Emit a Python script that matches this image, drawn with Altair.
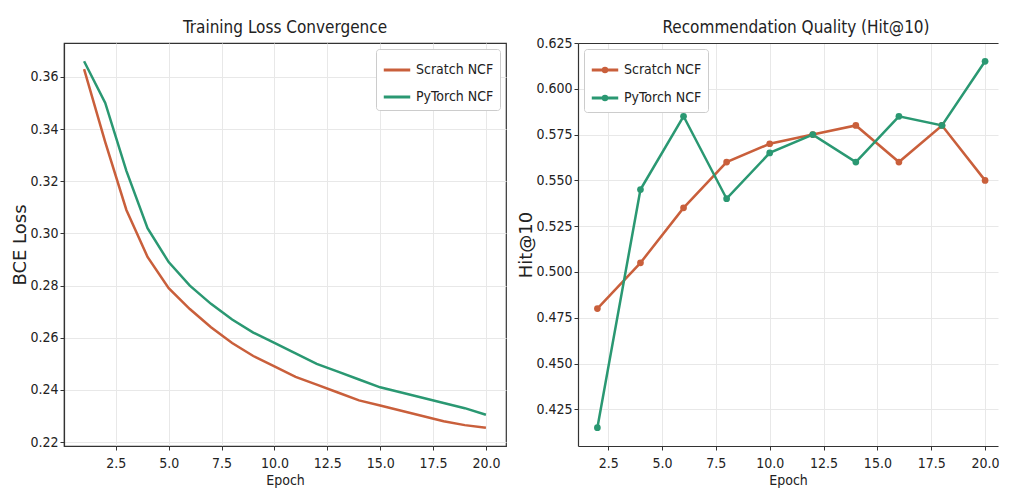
import altair as alt
import pandas as pd

# ---------------- data ----------------
series = ["Scratch NCF", "PyTorch NCF"]
colors = ["#c95f3b", "#2a9872"]

epochs = list(range(1, 21))
scratch_loss = [0.363, 0.335, 0.309, 0.291, 0.279, 0.271, 0.264, 0.258, 0.253, 0.249,
                0.245, 0.242, 0.239, 0.236, 0.234, 0.232, 0.230, 0.228, 0.2265, 0.2255]
pytorch_loss = [0.366, 0.350, 0.324, 0.302, 0.289, 0.280, 0.273, 0.267, 0.262, 0.258,
                0.254, 0.250, 0.247, 0.244, 0.241, 0.239, 0.237, 0.235, 0.233, 0.2305]

hit_epochs = [2, 4, 6, 8, 10, 12, 14, 16, 18, 20]
scratch_hit = [0.480, 0.505, 0.535, 0.560, 0.570, 0.575, 0.580, 0.560, 0.580, 0.550]
pytorch_hit = [0.415, 0.545, 0.585, 0.540, 0.565, 0.575, 0.560, 0.585, 0.580, 0.615]

x_ticks = [2.5, 5.0, 7.5, 10.0, 12.5, 15.0, 17.5, 20.0]
loss_ticks = [0.22, 0.24, 0.26, 0.28, 0.30, 0.32, 0.34, 0.36]
hit_ticks = [0.425, 0.450, 0.475, 0.500, 0.525, 0.550, 0.575, 0.600, 0.625]

loss_df = pd.DataFrame({
    "Epoch": epochs + epochs,
    "Loss": scratch_loss + pytorch_loss,
    "Model": [series[0]] * len(epochs) + [series[1]] * len(epochs),
})
hit_df = pd.DataFrame({
    "Epoch": hit_epochs + hit_epochs,
    "Hit": scratch_hit + pytorch_hit,
    "Model": [series[0]] * len(hit_epochs) + [series[1]] * len(hit_epochs),
})

FONT = "DejaVu Sans Condensed"
DARK = "#333333"

color_scale = alt.Scale(domain=series, range=colors)

legend_common = dict(
    title=None, labelFontSize=14, labelFont=FONT, labelColor="#222222",
    fillColor="white", strokeColor="#cccccc", padding=6, cornerRadius=3,
    rowPadding=5, symbolStrokeWidth=3, symbolSize=700, offset=6,
)

# ---------------- left panel ----------------
loss_chart = alt.Chart(loss_df).mark_line(strokeWidth=2.5).encode(
    x=alt.X("Epoch:Q",
            scale=alt.Scale(domain=[0.05, 20.95], nice=False, zero=False),
            axis=alt.Axis(values=x_ticks, format=".1f", title="Epoch")),
    y=alt.Y("Loss:Q",
            scale=alt.Scale(domain=[0.2185, 0.373], nice=False, zero=False),
            axis=alt.Axis(values=loss_ticks, format=".2f", title="BCE Loss")),
    color=alt.Color("Model:N", scale=color_scale, sort=series,
                    legend=alt.Legend(orient="top-right", symbolType="stroke", **legend_common)),
).properties(
    width=442, height=403,
    title=alt.TitleParams("Training Loss Convergence", offset=6),
)

# ---------------- right panel ----------------
hit_x_scale = alt.Scale(domain=[1.1, 20.6], nice=False, zero=False)
hit_y = alt.Y("Hit:Q",
              scale=alt.Scale(domain=[0.405, 0.625], nice=False, zero=False),
              axis=alt.Axis(values=hit_ticks, format=".3f", title="Hit@10"))
hit_color = alt.Color(
    "Model:N", scale=color_scale, sort=series,
    legend=alt.Legend(orient="top-left",
                      symbolType="M-1,0H1M0.13,0A0.13,0.13,0,1,1,-0.13,0A0.13,0.13,0,1,1,0.13,0",
                      **legend_common))

hit_line = alt.Chart(hit_df).mark_line(strokeWidth=2.5).encode(
    x=alt.X("Epoch:Q", scale=hit_x_scale,
            axis=alt.Axis(values=x_ticks, format=".1f", title="Epoch")),
    y=hit_y,
    color=hit_color,
)
hit_pts = alt.Chart(hit_df).mark_circle(size=45, opacity=1).encode(
    x=alt.X("Epoch:Q", scale=hit_x_scale,
            axis=alt.Axis(orient="top", labels=False, ticks=False, grid=False,
                          title=None, domain=True)),
    y=hit_y,
    color=hit_color,
)
hit_chart = alt.layer(hit_line, hit_pts).resolve_axis(x="independent").properties(
    width=420, height=403,
    title=alt.TitleParams("Recommendation Quality (Hit@10)", offset=-1, dx=8),
    view=alt.ViewBackground(stroke="transparent"),
)

chart = alt.hconcat(loss_chart, hit_chart, spacing=10).resolve_scale(
    color="independent"
).resolve_legend(color="independent").properties(
    padding={"left": 3, "top": 10, "right": 0, "bottom": 0},
).configure(
    font=FONT,
).configure_view(
    stroke=DARK, strokeWidth=1.2,
).configure_axis(
    labelFont=FONT, labelFontSize=14, labelColor="#222222",
    titleFont=FONT, titleFontSize=14, titleFontWeight="normal", titleColor="#222222",
    domainColor=DARK, domainWidth=1.2, tickColor=DARK, tickSize=4, tickWidth=1,
    gridColor="#e8e8e8", gridWidth=1, labelPadding=2,
).configure_axisX(
    labelPadding=6, titlePadding=3,
).configure_axisY(
    titleFont="DejaVu Sans", titleFontSize=18, titlePadding=0,
).configure_title(
    font=FONT, fontSize=17, fontWeight="normal", color="#222222",
)

chart.save("out.html", embed_options={"renderer": "svg", "actions": False})
